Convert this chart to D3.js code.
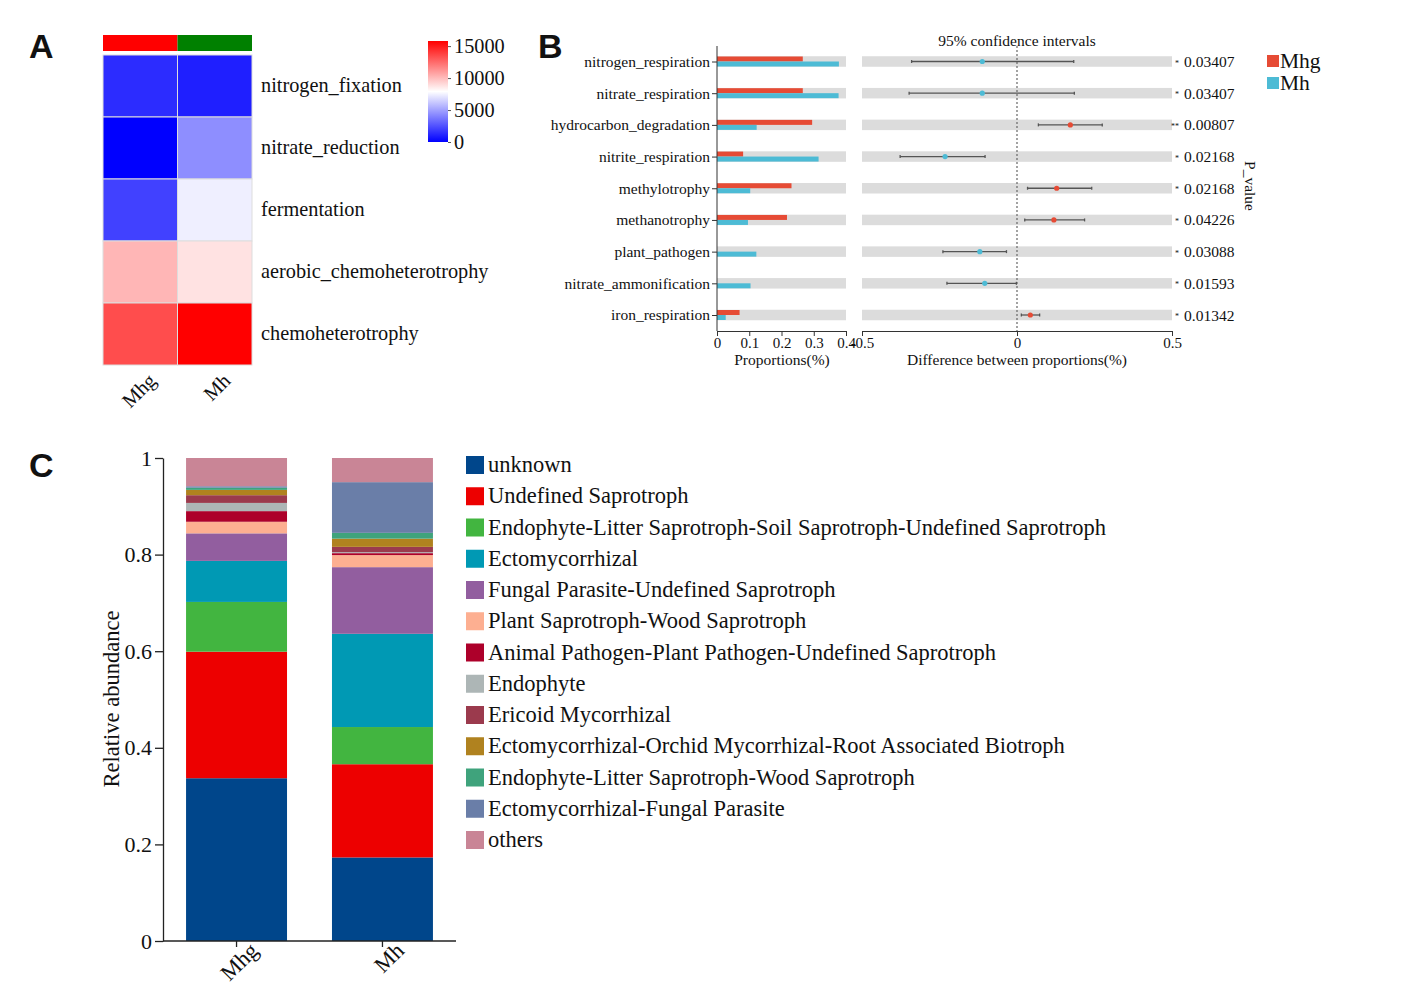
<!DOCTYPE html>
<html>
<head>
<meta charset="utf-8">
<script src="https://cdn.jsdelivr.net/npm/d3@7"></script>
<style>
  body { margin: 0; background: #fff; }
  svg text { font-family: "Liberation Serif", "DejaVu Serif", serif; fill: #111; }
  .panel-label { font-family: "Liberation Sans", Arial, sans-serif !important; font-weight: bold; font-size: 34px; }
</style>
</head>
<body>
<svg id="chart"></svg>
<script>
// ---------- data: panel A (heatmap) ----------
let heatSamples = ['Mhg', 'Mh'];
let heatFunctions = ['nitrogen_fixation', 'nitrate_reduction', 'fermentation', 'aerobic_chemoheterotrophy', 'chemoheterotrophy'];
let heatMhg = [1350, 0, 2000, 10150, 13400];
let heatMh = [950, 4400, 7400, 8800, 15800];
let heatTicks = [0, 5000, 10000, 15000];
let sampleColors = ['#ff0000', '#008000'];

// ---------- data: panel B (STAMP-like) ----------
let bFunctions = ['nitrogen_respiration', 'nitrate_respiration', 'hydrocarbon_degradation', 'nitrite_respiration',
  'methylotrophy', 'methanotrophy', 'plant_pathogen', 'nitrate_ammonification', 'iron_respiration'];
let propMhg = [0.266, 0.266, 0.295, 0.081, 0.231, 0.217, 0, 0, 0.070];
let propMh = [0.378, 0.377, 0.123, 0.315, 0.103, 0.096, 0.122, 0.104, 0.027];
let diffMean = [-0.112, -0.112, 0.172, -0.232, 0.128, 0.119, -0.120, -0.104, 0.043];
let diffLow = [-0.340, -0.348, 0.069, -0.377, 0.034, 0.025, -0.239, -0.226, 0.014];
let diffHigh = [0.183, 0.185, 0.275, -0.103, 0.241, 0.218, -0.034, -0.002, 0.073];
let pValues = ['0.03407', '0.03407', '0.00807', '0.02168', '0.02168', '0.04226', '0.03088', '0.01593', '0.01342'];
let pStars = ['*', '*', '**', '*', '*', '*', '*', '*', '*'];
let propTicks = [0, 0.1, 0.2, 0.3, 0.4];
let diffTicks = [-0.5, 0, 0.5];
let groupNames = ['Mhg', 'Mh'];
let groupColors = ['#e64b35', '#4dbbd5'];

// ---------- data: panel C (stacked bars) ----------
let cSamples = ['Mhg', 'Mh'];
let guilds = ['unknown', 'Undefined Saprotroph', 'Endophyte-Litter Saprotroph-Soil Saprotroph-Undefined Saprotroph',
  'Ectomycorrhizal', 'Fungal Parasite-Undefined Saprotroph', 'Plant Saprotroph-Wood Saprotroph',
  'Animal Pathogen-Plant Pathogen-Undefined Saprotroph', 'Endophyte', 'Ericoid Mycorrhizal',
  'Ectomycorrhizal-Orchid Mycorrhizal-Root Associated Biotroph', 'Endophyte-Litter Saprotroph-Wood Saprotroph',
  'Ectomycorrhizal-Fungal Parasite', 'others'];
let abundMhg = [0.337, 0.262, 0.103, 0.085, 0.057, 0.024, 0.022, 0.017, 0.016, 0.011, 0.0045, 0.003, 0.0585];
let abundMh = [0.173, 0.193, 0.077, 0.193, 0.138, 0.025, 0.004, 0.002, 0.011, 0.017, 0.012, 0.105, 0.050];
let guildColors = ['#00468b', '#ed0000', '#42b540', '#0099b4', '#925e9f', '#fdaf91', '#ad002a', '#adb6b6',
  '#9b3a4d', '#b0821f', '#3fa37c', '#6a7ea8', '#c98596'];
let abundTicks = [0, 0.2, 0.4, 0.6, 0.8, 1];

let width = 1416;
let height = 986;
let svg = d3.select('#chart').attr('width', width).attr('height', height);

// font sizes
let fsA = '20.3px';
let fsB = '15.5px';
let fsC = '22.5px';

// panel letters
svg.append('text').attr('class', 'panel-label').attr('x', 29).attr('y', 58).text('A');
svg.append('text').attr('class', 'panel-label').attr('x', 538).attr('y', 58).text('B');
svg.append('text').attr('class', 'panel-label').attr('x', 29).attr('y', 477).text('C');

// ================= Panel A =================
let drawHeatmap = () => {
  let g = svg.append('g');
  let xScale = d3.scaleBand().domain(heatSamples).range([103, 252]);
  let yScale = d3.scaleBand().domain(heatFunctions).range([55, 365]);
  let maxVal = 15800;
  let colorScale = d3.scaleLinear().domain([0, maxVal / 2, maxVal]).range(['#0000ff', '#ffffff', '#ff0000']);

  // annotation strip
  g.selectAll('.anno').data(heatSamples).enter().append('rect')
    .attr('x', (d) => xScale(d)).attr('y', 35)
    .attr('width', xScale.bandwidth()).attr('height', 16)
    .attr('fill', (d, i) => sampleColors[i]);

  let cells = [];
  heatFunctions.forEach((f, i) => {
    cells.push({ s: 'Mhg', f: f, v: heatMhg[i] });
    cells.push({ s: 'Mh', f: f, v: heatMh[i] });
  });
  g.selectAll('.cell').data(cells).enter().append('rect')
    .attr('x', (d) => xScale(d.s)).attr('y', (d) => yScale(d.f))
    .attr('width', xScale.bandwidth()).attr('height', yScale.bandwidth())
    .attr('fill', (d) => colorScale(d.v))
    .attr('stroke', '#dddddd').attr('stroke-width', 1);

  g.selectAll('.rowlab').data(heatFunctions).enter().append('text')
    .attr('x', 261).attr('y', (d) => yScale(d) + yScale.bandwidth() / 2 + 6)
    .style('font-size', fsA).text((d) => d);

  g.selectAll('.collab').data(heatSamples).enter().append('text')
    .attr('text-anchor', 'end')
    .attr('transform', (d) => `translate(${xScale(d) + xScale.bandwidth() / 2 + 17}, 382) rotate(-45)`)
    .style('font-size', fsA).text((d) => d);

  // colour key
  let defs = svg.append('defs');
  let grad = defs.append('linearGradient').attr('id', 'heatgrad')
    .attr('x1', 0).attr('y1', 1).attr('x2', 0).attr('y2', 0);
  d3.range(0, 1.01, 0.1).forEach((t) => {
    grad.append('stop').attr('offset', t).attr('stop-color', colorScale(t * maxVal));
  });
  let keyScale = d3.scaleLinear().domain([0, maxVal]).range([142, 41]);
  g.append('rect').attr('x', 428).attr('y', 41).attr('width', 20).attr('height', 101)
    .attr('fill', 'url(#heatgrad)');
  let keyAxis = g.append('g').attr('transform', 'translate(448,0)')
    .call(d3.axisRight(keyScale).tickValues(heatTicks).tickSize(3).tickFormat(d3.format('d')));
  keyAxis.select('.domain').remove();
  keyAxis.selectAll('line').attr('stroke', '#555');
  keyAxis.selectAll('text').attr('x', 6).style('font-size', fsA)
    .style('font-family', '"Liberation Serif", serif').attr('fill', '#111');
};

// ================= Panel B =================
let drawStamp = () => {
  let g = svg.append('g');
  let yScale = d3.scalePoint().domain(bFunctions).range([61.5, 315]);
  let propScale = d3.scaleLinear().domain([0, 0.4]).range([717, 846]);
  let diffScale = d3.scaleLinear().domain([-0.5, 0.5]).range([862, 1172]);
  let bandH = 10.5;

  // grey bands
  g.selectAll('.bandL').data(bFunctions).enter().append('rect')
    .attr('x', propScale(0)).attr('y', (d) => yScale(d) - bandH / 2)
    .attr('width', propScale(0.4) - propScale(0)).attr('height', bandH).attr('fill', '#dcdcdc');
  g.selectAll('.bandR').data(bFunctions).enter().append('rect')
    .attr('x', diffScale(-0.5)).attr('y', (d) => yScale(d) - bandH / 2)
    .attr('width', diffScale(0.5) - diffScale(-0.5)).attr('height', bandH).attr('fill', '#dcdcdc');

  // proportion bars
  g.selectAll('.barMhg').data(propMhg).enter().append('rect')
    .attr('x', propScale(0)).attr('y', (d, i) => yScale(bFunctions[i]) - 5)
    .attr('width', (d) => propScale(d) - propScale(0)).attr('height', 5).attr('fill', groupColors[0]);
  g.selectAll('.barMh').data(propMh).enter().append('rect')
    .attr('x', propScale(0)).attr('y', (d, i) => yScale(bFunctions[i]))
    .attr('width', (d) => propScale(d) - propScale(0)).attr('height', 5).attr('fill', groupColors[1]);

  // left axis
  let yAxis = g.append('g').attr('transform', `translate(${propScale(0)},0)`)
    .call(d3.axisLeft(yScale).tickSize(5).tickPadding(2));
  yAxis.select('.domain').attr('d', `M0,46V331`).attr('stroke', '#333');
  yAxis.selectAll('line').attr('stroke', '#333');
  yAxis.selectAll('text').style('font-size', fsB).style('font-family', '"Liberation Serif", serif').attr('fill', '#111');

  // bottom axes
  let xAxisL = g.append('g').attr('transform', 'translate(0,331)')
    .call(d3.axisBottom(propScale).tickValues(propTicks).tickSize(5).tickPadding(1).tickSizeOuter(0).tickFormat((d) => d === 0 ? '0' : d3.format('.1f')(d)));
  let xAxisR = g.append('g').attr('transform', 'translate(0,331)')
    .call(d3.axisBottom(diffScale).tickValues(diffTicks).tickSize(5).tickPadding(1).tickSizeOuter(0).tickFormat((d) => d === 0 ? '0' : (d < 0 ? '-' : '') + d3.format('.1f')(Math.abs(d))));
  [xAxisL, xAxisR].forEach((ax) => {
    ax.selectAll('line, .domain').attr('stroke', '#333');
    ax.selectAll('text').style('font-size', '15px').style('font-family', '"Liberation Serif", serif').attr('fill', '#111');
  });

  g.append('text').attr('x', 782).attr('y', 365).attr('text-anchor', 'middle').style('font-size', fsB).text('Proportions(%)');
  g.append('text').attr('x', 1017).attr('y', 365).attr('text-anchor', 'middle').style('font-size', fsB).text('Difference between proportions(%)');
  g.append('text').attr('x', 1017).attr('y', 46).attr('text-anchor', 'middle').style('font-size', fsB).text('95% confidence intervals');

  // zero line
  g.append('line').attr('x1', diffScale(0)).attr('x2', diffScale(0)).attr('y1', 46).attr('y2', 331)
    .attr('stroke', '#666').attr('stroke-width', 1.2).attr('stroke-dasharray', '2,2');

  // confidence intervals
  let ci = bFunctions.map((f, i) => ({ f: f, m: diffMean[i], lo: diffLow[i], hi: diffHigh[i] }));
  g.selectAll('.ciline').data(ci).enter().append('line')
    .attr('x1', (d) => diffScale(d.lo)).attr('x2', (d) => diffScale(d.hi))
    .attr('y1', (d) => yScale(d.f)).attr('y2', (d) => yScale(d.f))
    .attr('stroke', '#555').attr('stroke-width', 1.3);
  ['lo', 'hi'].forEach((k) => {
    g.selectAll('.cap' + k).data(ci).enter().append('line')
      .attr('x1', (d) => diffScale(d[k])).attr('x2', (d) => diffScale(d[k]))
      .attr('y1', (d) => yScale(d.f) - 1.5).attr('y2', (d) => yScale(d.f) + 1.5)
      .attr('stroke', '#555').attr('stroke-width', 1.3);
  });
  g.selectAll('.cipt').data(ci).enter().append('circle')
    .attr('cx', (d) => diffScale(d.m)).attr('cy', (d) => yScale(d.f)).attr('r', 2.6)
    .attr('fill', (d) => d.m > 0 ? groupColors[0] : groupColors[1]);

  // p values
  g.selectAll('.stars').data(pStars).enter().append('text')
    .attr('x', 1179).attr('y', (d, i) => yScale(bFunctions[i]) + 4)
    .attr('text-anchor', 'end').style('font-size', '8px').text((d) => d);
  g.selectAll('.pval').data(pValues).enter().append('text')
    .attr('x', 1184).attr('y', (d, i) => yScale(bFunctions[i]) + 5.5)
    .style('font-size', fsB).text((d) => d);
  g.append('text').attr('transform', 'translate(1245,186) rotate(90)')
    .attr('text-anchor', 'middle').style('font-size', fsB).text('P_value');

  // legend
  let leg = g.selectAll('.leg').data(groupNames).enter().append('g')
    .attr('transform', (d, i) => `translate(1267,${55 + i * 22})`);
  leg.append('rect').attr('width', 12).attr('height', 12).attr('fill', (d, i) => groupColors[i]);
  leg.append('text').attr('x', 13).attr('y', 13).style('font-size', '21.5px').text((d) => d);
};

// ================= Panel C =================
let drawStack = () => {
  let g = svg.append('g');
  let xScale = d3.scaleBand().domain(cSamples).range([163, 456]).paddingInner(0.308).paddingOuter(0.158);
  let yScale = d3.scaleLinear().domain([0, 1]).range([941, 458]);

  let rows = cSamples.map((s, si) => {
    let row = { sample: s };
    guilds.forEach((gName, gi) => { row[gName] = si === 0 ? abundMhg[gi] : abundMh[gi]; });
    return row;
  });
  let series = d3.stack().keys(guilds)(rows);

  g.selectAll('.layer').data(series).enter().append('g')
    .attr('fill', (d, i) => guildColors[i])
    .selectAll('rect').data((d) => d).enter().append('rect')
    .attr('x', (d) => xScale(d.data.sample))
    .attr('y', (d) => yScale(d[1]))
    .attr('width', xScale.bandwidth())
    .attr('height', (d) => yScale(d[0]) - yScale(d[1]));

  let yAxis = g.append('g').attr('transform', 'translate(163,0)')
    .call(d3.axisLeft(yScale).tickValues(abundTicks).tickSize(8).tickSizeOuter(0).tickFormat((d) => d === 0 || d === 1 ? String(d) : d3.format('.1f')(d)));
  let xAxis = g.append('g').attr('transform', 'translate(0,941)')
    .call(d3.axisBottom(xScale).tickSize(6).tickSizeOuter(0).tickFormat(''));
  [yAxis, xAxis].forEach((ax) => {
    ax.selectAll('line, .domain').attr('stroke', '#222').attr('stroke-width', 1.3);
  });
  yAxis.selectAll('text').style('font-size', '22px').style('font-family', '"Liberation Serif", serif').attr('fill', '#111');
  xAxis.select('.domain').attr('d', 'M163,0H456');

  g.selectAll('.xlab').data(cSamples).enter().append('text')
    .attr('text-anchor', 'end')
    .attr('transform', (d) => `translate(${xScale(d) + xScale.bandwidth() / 2 + 23},952) rotate(-45)`)
    .style('font-size', fsC).text((d) => d);

  g.append('text').attr('transform', 'translate(119,699) rotate(-90)')
    .attr('text-anchor', 'middle').style('font-size', fsC).text('Relative abundance');

  let leg = g.selectAll('.cleg').data(guilds).enter().append('g')
    .attr('transform', (d, i) => `translate(466,${456 + i * 31.25})`);
  leg.append('rect').attr('width', 18).attr('height', 18).attr('fill', (d, i) => guildColors[i]);
  leg.append('text').attr('x', 22).attr('y', 16).style('font-size', fsC).text((d) => d);
};

drawHeatmap();
drawStamp();
drawStack();
</script>
</body>
</html>
